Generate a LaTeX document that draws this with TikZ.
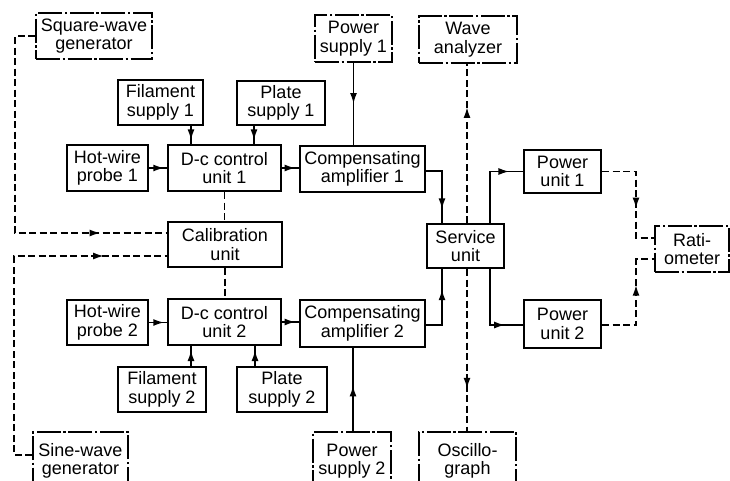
\documentclass[tikz,border=0pt]{standalone}
\usepackage{fontspec}
\setmainfont{Liberation Sans}
\usetikzlibrary{arrows.meta,decorations.markings,calc}
\tikzset{
  blk/.style 2 args={draw, line width=2pt, inner sep=0pt, align=center,
    font=\fontsize{18}{18.5}\selectfont, minimum width=#1pt, minimum height=#2pt},
  ext/.style={dash pattern=on 24pt off 2.5pt on 2.5pt off 2.5pt},
  sol/.style={line width=1.9pt},
  dsh/.style={line width=1.9pt, dash pattern=on 7pt off 3.5pt},
  ar/.style={postaction={decorate}, decoration={markings,
    mark=at position #1 with {\arrow{Latex[length=11pt,width=7pt]}}}}
}
\begin{document}
\begin{tikzpicture}[x=1pt,y=-1pt]
\useasboundingbox (0,0) rectangle (730,480);
\fill[white] (0,0) rectangle (730,480);
\clip (0,0) rectangle (730,480);
% nodes
\node[blk={116}{46}, ext] (sq) at (94,36) {Square-wave\\generator};
\node[blk={77}{47}, ext] (ps1) at (353.5,38.5) {Power\\supply 1};
\node[blk={98}{47}, ext] (wa) at (468,39.5) {Wave\\analyzer};
\node[blk={85}{45}] (fs1) at (160.5,102.5) {Filament\\supply 1};
\node[blk={88}{44}] (pls1) at (281,103) {Plate\\supply 1};
\node[blk={81}{46}] (hw1) at (107.5,168) {Hot-wire\\probe 1};
\node[blk={113}{46}] (dc1) at (224.5,168) {D-c control\\unit 1};
\node[blk={125}{46}] (ca1) at (362.5,169) {Compensating\\amplifier 1};
\node[blk={114}{45}] (cal) at (225,244.5) {Calibration\\unit};
\node[blk={77}{44}] (su) at (465.5,246) {Service\\unit};
\node[blk={77}{43}] (pu1) at (562.5,171.5) {Power\\unit 1};
\node[blk={74}{46}, ext] (rat) at (692,249) {Rati-\\ometer};
\node[blk={77}{48}] (pu2) at (562.5,324) {Power\\unit 2};
\node[blk={81}{45}] (hw2) at (107.5,322.5) {Hot-wire\\probe 2};
\node[blk={113}{46}] (dc2) at (224.5,322) {D-c control\\unit 2};
\node[blk={125}{47}] (ca2) at (362.5,323.5) {Compensating\\amplifier 2};
\node[blk={88}{45}] (fs2) at (162,389.5) {Filament\\supply 2};
\node[blk={90}{45}] (pls2) at (282,389.5) {Plate\\supply 2};
\node[blk={95}{58}, ext] (sw) at (80.5,461) {Sine-wave\\generator};
\node[blk={78}{58}, ext] (ps2) at (352,461) {Power\\supply 2};
\node[blk={97}{58}, ext] (osc) at (467.5,461) {Oscillo-\\graph};
% connectors
\draw[dsh, ar=0.82] (sq.west) -- ++(-20,0) |- (cal.west |- 0,233);
\draw[dsh, ar=0.83] (sw.west |- 0,455) -- ++(-18,0) |- (cal.west |- 0,256);
\draw[dsh] (dc1.south) -- (dc1.south |- cal.north);
\draw[dsh] (cal.south) -- (cal.south |- dc2.north);
\draw[sol, ar=0.8] (fs1.south -| 191,0) -- (191,0 |- dc1.north);
\draw[sol, ar=0.8] (pls1.south -| 254,0) -- (254,0 |- dc1.north);
\draw[sol, ar=0.5] (ps1.south) -- (ps1.south |- ca1.north);
\draw[sol, ar=0.85] (hw1.east) -- (dc1.west);
\draw[sol, ar=0.8] (dc1.east) -- (dc1.east -| ca1.west);
\draw[sol, ar=0.8] (ca1.east |- 0,171) -| (442,0 |- su.north);
\draw[sol, ar=0.72] (ca2.east |- 0,325) -| (442,0 |- su.south);
\draw[dsh, ar=0.73] (su.north -| 467,0) -- (467,0 |- wa.south);
\draw[dsh, ar=0.74] (su.south -| 467,0) -- (467,0 |- osc.north);
\draw[sol, ar=0.84] (su.north -| 490,0) |- (pu1.west);
\draw[sol, ar=0.8] (su.south -| 490,0) |- (pu2.west |- 0,325);
\draw[dsh, ar=0.6] (pu1.east) -- ++(34,0) |- (rat.west |- 0,238);
\draw[dsh, ar=0.63] (pu2.east |- 0,325) -- ++(34,0) |- (rat.west |- 0,259);
\draw[sol, ar=0.8] (fs2.north -| 191,0) -- (191,0 |- dc2.south);
\draw[sol, ar=0.8] (pls2.north -| 255,0) -- (255,0 |- dc2.south);
\draw[sol, ar=0.55] (ps2.north -| 353,0) -- (353,0 |- ca2.south);
\draw[sol, ar=0.85] (hw2.east) -- (hw2.east -| dc2.west);
\draw[sol, ar=0.8] (dc2.east) -- (dc2.east -| ca2.west);
\end{tikzpicture}
\end{document}
